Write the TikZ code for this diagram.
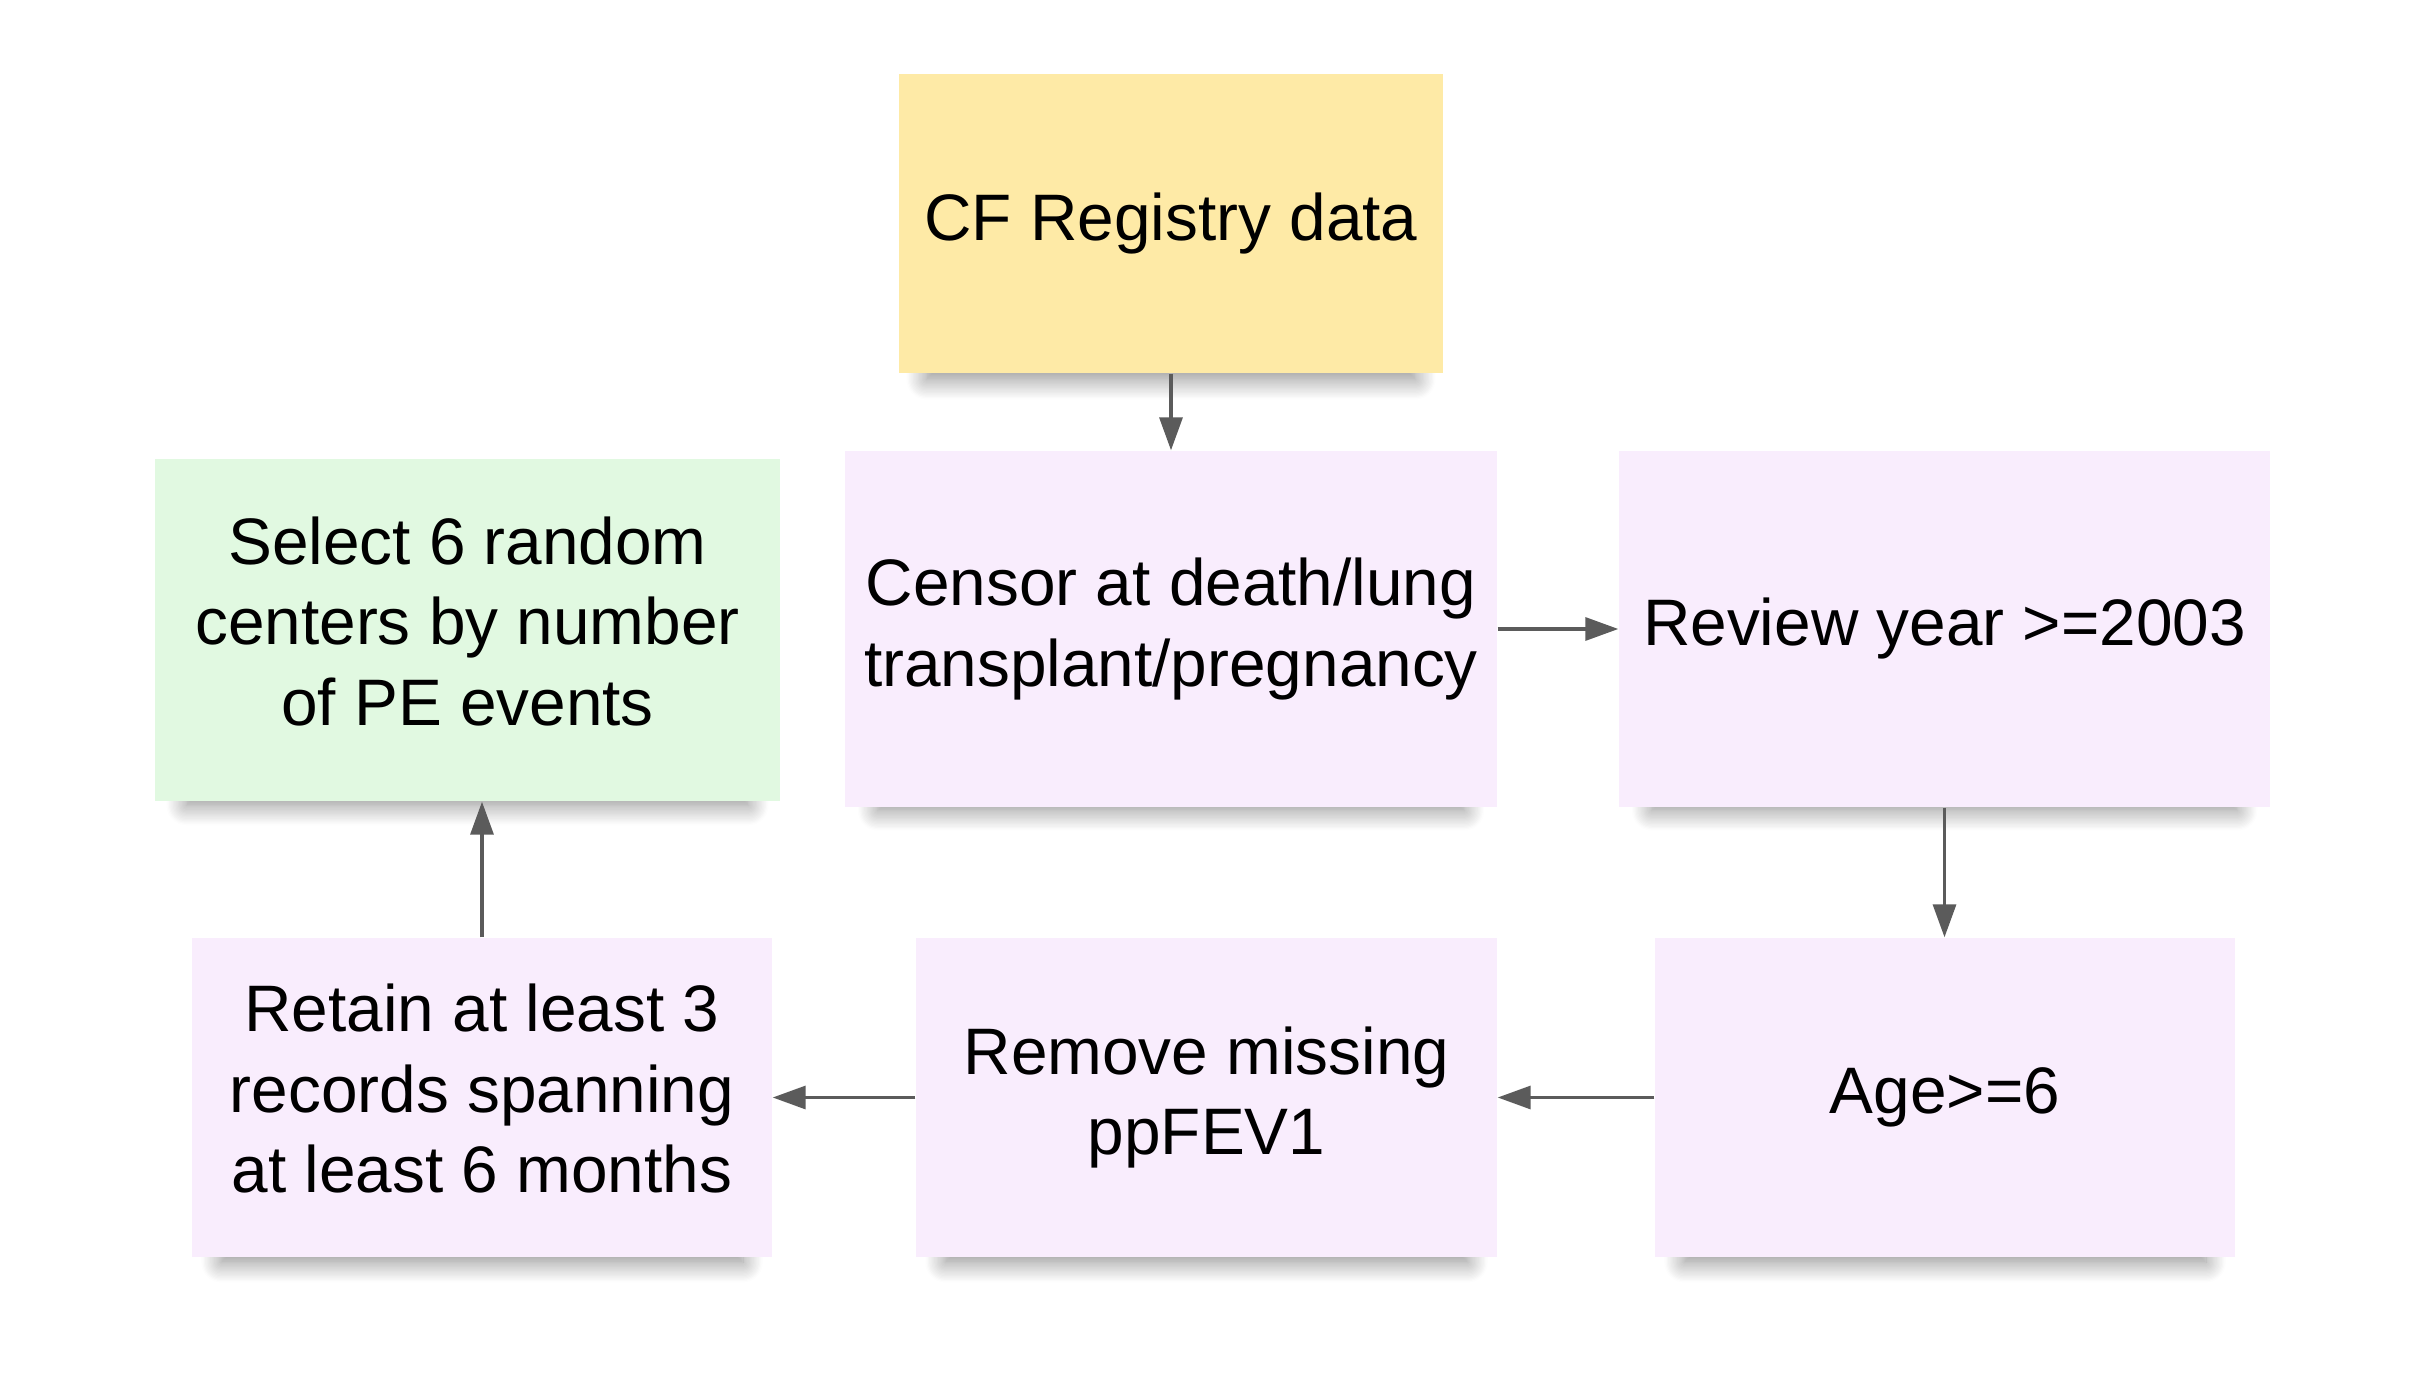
\documentclass[tikz,border=0pt]{standalone}
\usepackage{fontspec}
\setmainfont{Liberation Sans}
\usetikzlibrary{positioning,arrows.meta,shadows.blur}
\definecolor{cfyellow}{HTML}{FEEAA6}
\definecolor{steplilac}{HTML}{F9EDFD}
\definecolor{selgreen}{HTML}{E1F9E1}
\definecolor{arrowgray}{HTML}{5B5B5B}

\begin{document}
\begin{tikzpicture}[
    >=Triangle,
    box/.style={align=center, inner sep=0pt, font=\fontsize{18.7}{22.9}\selectfont,
                blur shadow={shadow xshift=0pt, shadow yshift=-0.24cm,
                             shadow scale=0.9, shadow opacity=45,
                             shadow blur radius=0.22cm, shadow blur steps=16}},
    cfbox/.style={box, fill=cfyellow, minimum width=5.44cm, minimum height=2.99cm},
    stepbox/.style={box, fill=steplilac, minimum width=5.80cm, minimum height=3.19cm},
    widebox/.style={box, fill=steplilac, minimum width=6.52cm, minimum height=3.56cm},
    selbox/.style={box, fill=selgreen, minimum width=6.25cm, minimum height=3.42cm},
    arrow/.style={-{Triangle[length=0.33cm,width=0.23cm]}, line width=0.95pt, color=arrowgray},
]
\useasboundingbox (0,0) rectangle (24.3,13.73);

% source
\node[cfbox] (cf) at (11.71,11.495) {CF Registry data};

% first row
\node[widebox] (censor) at (11.71,7.44) {Censor at death/lung\\transplant/pregnancy};
\node[widebox, minimum width=6.51cm] (review) at (19.445,7.44) {Review year >=2003};
\node[selbox, text depth=0.18cm] (select) at (4.675,7.43) {Select 6 random\\centers by number\\of PE events};

% second row
\node[stepbox] (age) at (19.45,2.755) {Age>=6};
\node[stepbox, minimum width=5.81cm] (remove) at (12.065,2.755) {Remove missing\\ppFEV1};
\node[stepbox, text depth=0.18cm] (retain) at (4.82,2.755) {Retain at least 3\\records spanning\\at least 6 months};

% Arrows
\draw[arrow] (cf.south) -- (censor.north);
\draw[arrow] (censor.east) -- (review.west);
\draw[arrow] (review.south) -- (review.south |- age.north);
\draw[arrow] (age.west) -- (remove.east);
\draw[arrow] (remove.west) -- (retain.east);
\draw[arrow] (retain.north) -- (retain.north |- select.south);

\end{tikzpicture}
\end{document}
